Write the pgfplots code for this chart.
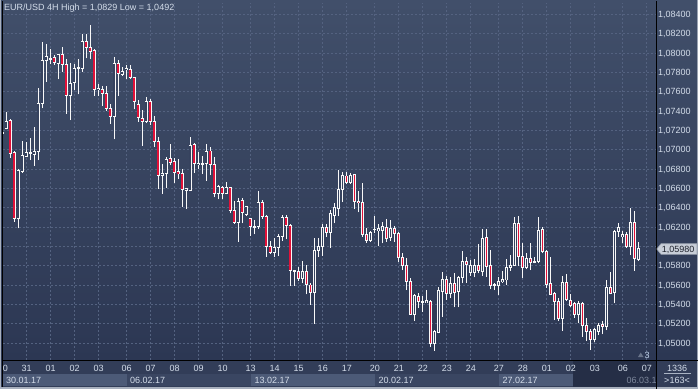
\documentclass[border=0pt]{standalone}
\usepackage{fontspec}
\setmainfont{Liberation Sans}
\usepackage{pgfplots}
\usepackage{pgfplotstable}
\usetikzlibrary{backgrounds}
\pgfplotsset{compat=1.18}
\definecolor{bgtop}{RGB}{65,79,106}
\definecolor{bgbot}{RGB}{44,55,83}
\definecolor{bgmid}{RGB}{54,66,94}
\definecolor{gridc}{RGB}{84,98,128}
\definecolor{cred}{RGB}{226,16,56}
\definecolor{cwhite}{RGB}{248,248,248}
\definecolor{txt}{RGB}{212,221,234}
\definecolor{axbg}{RGB}{50,61,88}
\definecolor{boxlight}{RGB}{76,90,119}
\definecolor{boxdark}{RGB}{58,70,98}
\definecolor{ovl}{RGB}{37,46,70}
\definecolor{framec}{RGB}{168,176,190}
\definecolor{dimtxt}{RGB}{125,135,155}
\definecolor{sepc}{RGB}{170,180,196}
\definecolor{tric}{RGB}{105,116,138}
\definecolor{numc}{RGB}{196,214,238}
\definecolor{pfill}{RGB}{200,206,216}
\definecolor{pdraw}{RGB}{150,158,172}
\definecolor{ptxt}{RGB}{30,34,44}

\pgfplotstableread{
i O H L C
0 1.07180 1.07227 1.07124 1.07175
1 1.07220 1.07393 1.07210 1.07289
2 1.07303 1.07313 1.06917 1.06958
3 1.06968 1.06986 1.06254 1.06292
4 1.06285 1.06803 1.06185 1.06789
5 1.06779 1.07086 1.06761 1.06941
6 1.06934 1.07079 1.06927 1.06968
7 1.06958 1.07117 1.06892 1.06968
8 1.06955 1.07237 1.06830 1.06982
9 1.06979 1.07641 1.06892 1.07475
10 1.07475 1.08117 1.07427 1.07924
11 1.07921 1.08090 1.07700 1.07962
12 1.07945 1.08038 1.07883 1.07941
13 1.07952 1.07979 1.07876 1.07900
14 1.07896 1.07990 1.07727 1.07983
15 1.07983 1.08065 1.07807 1.07879
16 1.07879 1.07934 1.07369 1.07565
17 1.07565 1.07900 1.07306 1.07683
18 1.07693 1.07883 1.07617 1.07841
19 1.07838 1.07941 1.07572 1.07848
20 1.07838 1.08193 1.07807 1.08117
21 1.08117 1.08193 1.07945 1.08055
22 1.08055 1.08293 1.07934 1.08021
23 1.08028 1.08038 1.07555 1.07620
24 1.07620 1.07676 1.07555 1.07631
25 1.07624 1.07658 1.07451 1.07582
26 1.07582 1.07658 1.07400 1.07424
27 1.07424 1.07469 1.07268 1.07348
28 1.07348 1.07955 1.07107 1.07893
29 1.07893 1.07928 1.07558 1.07790
30 1.07783 1.07859 1.07762 1.07807
31 1.07824 1.07876 1.07728 1.07835
32 1.07831 1.07872 1.07728 1.07748
33 1.07748 1.07755 1.07417 1.07496
34 1.07469 1.07514 1.07289 1.07334
35 1.07324 1.07410 1.07038 1.07293
36 1.07289 1.07541 1.07279 1.07503
37 1.07503 1.07524 1.07251 1.07289
38 1.07293 1.07348 1.07031 1.07082
39 1.07086 1.07127 1.06596 1.06734
40 1.06734 1.06851 1.06541 1.06755
41 1.06751 1.06927 1.06603 1.06903
42 1.06910 1.07058 1.06841 1.06868
43 1.06879 1.06910 1.06658 1.06765
44 1.06775 1.06903 1.06696 1.06751
45 1.06755 1.06803 1.06410 1.06589
46 1.06582 1.06606 1.06389 1.06599
47 1.06579 1.07127 1.06572 1.07044
48 1.07055 1.07065 1.06762 1.06858
49 1.06844 1.06975 1.06796 1.06858
50 1.06858 1.06934 1.06748 1.06855
51 1.06858 1.07058 1.06679 1.06986
52 1.06986 1.07031 1.06737 1.06848
53 1.06848 1.06927 1.06506 1.06544
54 1.06548 1.06634 1.06486 1.06617
55 1.06610 1.06624 1.06486 1.06548
56 1.06548 1.06666 1.06541 1.06610
57 1.06610 1.06617 1.06341 1.06369
58 1.06376 1.06472 1.06234 1.06245
59 1.06245 1.06497 1.06048 1.06466
60 1.06479 1.06500 1.06238 1.06348
61 1.06334 1.06417 1.06314 1.06414
62 1.06290 1.06297 1.06110 1.06203
63 1.06203 1.06272 1.06124 1.06207
64 1.06203 1.06573 1.06183 1.06455
65 1.06455 1.06479 1.06286 1.06307
66 1.06310 1.06321 1.05893 1.06000
67 1.06003 1.06055 1.05920 1.05934
68 1.05934 1.06086 1.05893 1.05990
69 1.05993 1.06127 1.05903 1.06107
70 1.06100 1.06328 1.06058 1.06300
71 1.06300 1.06328 1.06072 1.06214
72 1.06217 1.06228 1.05589 1.05748
73 1.05741 1.05755 1.05589 1.05751
74 1.05741 1.05786 1.05644 1.05665
75 1.05665 1.05848 1.05617 1.05741
76 1.05741 1.05803 1.05503 1.05610
77 1.05600 1.05617 1.05393 1.05524
78 1.05524 1.06086 1.05200 1.05958
79 1.05958 1.06090 1.05893 1.06003
80 1.06003 1.06227 1.05900 1.06196
81 1.06196 1.06227 1.06100 1.06148
82 1.06141 1.06376 1.05986 1.06341
83 1.06324 1.06452 1.06238 1.06400
84 1.06393 1.06790 1.06317 1.06590
85 1.06590 1.06773 1.06462 1.06728
86 1.06728 1.06766 1.06641 1.06659
87 1.06659 1.06762 1.06645 1.06738
88 1.06738 1.06748 1.06386 1.06462
89 1.06469 1.06572 1.06352 1.06452
90 1.06455 1.06652 1.06100 1.06124
91 1.06127 1.06186 1.06038 1.06065
92 1.06065 1.06158 1.06045 1.06148
93 1.06176 1.06314 1.06141 1.06172
94 1.06162 1.06227 1.06003 1.06183
95 1.06162 1.06255 1.06031 1.06210
96 1.06200 1.06286 1.06048 1.06079
97 1.06089 1.06272 1.06058 1.06189
98 1.06189 1.06210 1.06048 1.06138
99 1.06138 1.06148 1.05838 1.05882
100 1.05886 1.05931 1.05755 1.05803
101 1.05803 1.05875 1.05548 1.05637
102 1.05637 1.05668 1.05289 1.05296
103 1.05296 1.05503 1.05227 1.05496
104 1.05486 1.05513 1.05361 1.05427
105 1.05427 1.05486 1.05323 1.05424
106 1.05420 1.05548 1.05417 1.05441
107 1.05434 1.05441 1.04954 1.04996
108 1.04996 1.05134 1.04920 1.05123
109 1.05107 1.05576 1.05100 1.05548
110 1.05531 1.05738 1.05272 1.05659
111 1.05659 1.05693 1.05445 1.05514
112 1.05514 1.05686 1.05462 1.05617
113 1.05617 1.05721 1.05369 1.05521
114 1.05531 1.05693 1.05369 1.05679
115 1.05679 1.05952 1.05617 1.05841
116 1.05848 1.05893 1.05624 1.05814
117 1.05728 1.05859 1.05693 1.05807
118 1.05728 1.05866 1.05679 1.05807
119 1.05807 1.06024 1.05721 1.05748
120 1.05738 1.06176 1.05693 1.06083
121 1.06093 1.06180 1.05686 1.05790
122 1.05797 1.05962 1.05555 1.05593
123 1.05607 1.05624 1.05548 1.05603
124 1.05600 1.05679 1.05496 1.05641
125 1.05634 1.05748 1.05624 1.05659
126 1.05652 1.05866 1.05600 1.05783
127 1.05783 1.05910 1.05748 1.05807
128 1.05807 1.06307 1.05797 1.06238
129 1.06238 1.06314 1.05800 1.05893
130 1.05893 1.06038 1.05676 1.05779
131 1.05779 1.05928 1.05762 1.05876
132 1.05876 1.06038 1.05755 1.05835
133 1.05838 1.05893 1.05824 1.05845
134 1.05841 1.06307 1.05824 1.06169
135 1.06179 1.06204 1.05928 1.05945
136 1.05945 1.05960 1.05572 1.05607
137 1.05617 1.05893 1.05496 1.05503
138 1.05514 1.05531 1.05238 1.05434
139 1.05434 1.05462 1.05227 1.05255
140 1.05255 1.05696 1.05124 1.05627
141 1.05627 1.05710 1.05434 1.05445
142 1.05438 1.05503 1.05376 1.05393
143 1.05410 1.05427 1.05262 1.05300
144 1.05300 1.05434 1.05203 1.05410
145 1.05410 1.05420 1.05065 1.05179
146 1.05186 1.05262 1.05020 1.05117
147 1.05117 1.05141 1.04930 1.05041
148 1.05041 1.05151 1.05013 1.05141
149 1.05124 1.05210 1.05082 1.05179
150 1.05196 1.05231 1.05089 1.05169
151 1.05169 1.05652 1.05134 1.05576
152 1.05576 1.05731 1.05503 1.05514
153 1.05520 1.06169 1.05410 1.06159
154 1.06159 1.06238 1.06100 1.06197
155 1.06100 1.06162 1.06031 1.06124
156 1.06124 1.06152 1.05986 1.05997
157 1.05997 1.06393 1.05910 1.06248
158 1.06248 1.06366 1.05745 1.05876
159 1.05865 1.06048 1.05852 1.05979
}\candles

\begin{document}
\begin{tikzpicture}[x=1pt,y=1pt,font=\fontsize{9}{10}\selectfont]
\begin{axis}[
  name=ax, at={(3,29)}, anchor=south west,
  scale only axis, width=653pt, height=357pt,
  xmin=0.175, xmax=163.4, ymin=1.04824, ymax=1.08517,
  axis line style={draw=none}, tick style={draw=none},
  grid=major,
  major grid style={draw=gridc, line width=0.9pt, dash pattern=on 2pt off 2pt},
  tick label style={font=\fontsize{9}{10}\selectfont, text=txt},
  xtick={6.1,12.1,18.1,24.1,31.1,37.1,43.1,49.1,55.1,62.1,68.1,74.1,80.1,86.1,93.1,99.1,105.1,111.1,117.1,124.1,130.1,136.1,142.1,148.1,155.1,161.1},
  xticklabels={31,01,02,03,06,07,08,09,10,13,14,15,16,17,20,21,22,23,24,27,28,01,02,03,06,07},
  xticklabel style={anchor=center, inner sep=0pt, yshift=-8pt},
  ytick={1.050,1.052,1.054,1.056,1.058,1.060,1.062,1.064,1.066,1.068,1.070,1.072,1.074,1.076,1.078,1.080,1.082,1.084},
  yticklabels={{1,05000},{1,05200},{1,05400},{1,05600},{1,05800},{},{1,06200},{1,06400},{1,06600},{1,06800},{1,07000},{1,07200},{1,07400},{1,07600},{1,07800},{1,08000},{1,08200},{1,08400}},
  yticklabel pos=right, scaled y ticks=false,
  yticklabel style={anchor=base west, inner sep=0pt, xshift=2pt, yshift=-3.2pt},
]
% wicks
\addplot[forget plot, draw=none, mark=none,
  error bars/.cd, y dir=plus, y explicit, error mark=none,
  error bar style={draw=cwhite, line width=1pt, solid}]
  table[x=i, y=L, y error plus expr={\thisrow{H}-\thisrow{L}}] {\candles};
% body outlines
\addplot[forget plot, draw=none, mark=none,
  error bars/.cd, y dir=both, y explicit, error mark=none,
  error bar style={draw=cwhite, line width=3.5pt, solid}]
  table[x=i, y expr={(\thisrow{O}+\thisrow{C})/2}, y error expr={abs(\thisrow{O}-\thisrow{C})/2+0.00005}] {\candles};
% bearish fill
\addplot[forget plot, draw=none, mark=none,
  error bars/.cd, y dir=both, y explicit, error mark=none,
  error bar style={draw=cred, line width=1.7pt, solid}]
  table[x=i, y expr={(\thisrow{O}+\thisrow{C})/2}, y error expr={max((\thisrow{O}-\thisrow{C})/2-0.00005,0)}] {\candles};
% bullish hollow
\addplot[forget plot, draw=none, mark=none,
  error bars/.cd, y dir=both, y explicit, error mark=none,
  error bar style={draw=bgmid, line width=1.7pt, solid}]
  table[x=i, y expr={(\thisrow{O}+\thisrow{C})/2}, y error expr={max((\thisrow{C}-\thisrow{O})/2-0.00005,0)}] {\candles};
\end{axis}

\begin{scope}[shift={(ax.south west)}, xshift=-3pt, yshift=-29pt]
\begin{scope}[on background layer]
% outer frame and backgrounds
\fill[framec] (0,0) rectangle (698,389);
\shade[top color=bgtop, bottom color=bgbot] (1,29) rectangle (697,388);
\fill[axbg] (1,2) rectangle (697,29);
% date boxes (second row of time axis)
\fill[boxlight] (3,3) rectangle (126.7,15);
\fill[boxdark] (126.7,3) rectangle (250.7,15);
\fill[boxlight] (250.7,3) rectangle (374.7,15);
\fill[boxdark] (374.7,3) rectangle (498.7,15);
\fill[boxlight] (498.7,3) rectangle (572.5,15);
\fill[ovl] (572.5,2) rectangle (656,29);
\fill[axbg] (656,2) rectangle (697,29);
\end{scope}
% frame lines
\draw[black, line width=1pt] (2,2) -- (2,388);
\draw[black, line width=1pt] (656,0.5) -- (656,388);
\draw[black, line width=1pt] (2,29) -- (698,29);
% title
\node[anchor=west, inner sep=0pt, text=txt] at (4,380.7) {EUR/USD 4H High = 1,0829 Low = 1,0492};
% partial first day label
\node[inner sep=0pt, text=txt] at (5.4,21) {0};
% date labels
\node[anchor=west, inner sep=0pt, text=txt] at (6,9) {30.01.17};
\node[anchor=west, inner sep=0pt, text=txt] at (130,9) {06.02.17};
\node[anchor=west, inner sep=0pt, text=txt] at (254.5,9) {13.02.17};
\node[anchor=west, inner sep=0pt, text=txt] at (378.5,9) {20.02.17};
\node[anchor=west, inner sep=0pt, text=txt] at (502.5,9) {27.02.17};
\begin{scope}
\clip (572.5,2) rectangle (655.5,29);
\node[anchor=west, inner sep=0pt, text=dimtxt] at (626.5,9) {06.03.17};
\end{scope}
% bottom right panel
\node[inner sep=0pt, text=txt] at (677,21) {1336};
\draw[sepc, line width=0.8pt] (664,15.5) -- (691,15.5);
\node[inner sep=0pt, text=txt] at (677,8.5) {>163<};
% shift marker
\fill[tric] (638,32) -- (643.5,32) -- (640.75,36.5) -- cycle;
\node[anchor=west, inner sep=0pt, text=numc] at (644.5,33.6) {3};
% current price label
\filldraw[fill=pfill, draw=pdraw, line width=0.6pt]
  (656.8,140) -- (661,145.3) -- (697,145.3) -- (697,134.7) -- (661,134.7) -- cycle;
\node[anchor=base west, inner sep=0pt, text=ptxt] at (661.6,136.8) {1,05980};
\pgfresetboundingbox
\path[use as bounding box] (0,0) rectangle (698,389);
\end{scope}
\end{tikzpicture}
\end{document}
